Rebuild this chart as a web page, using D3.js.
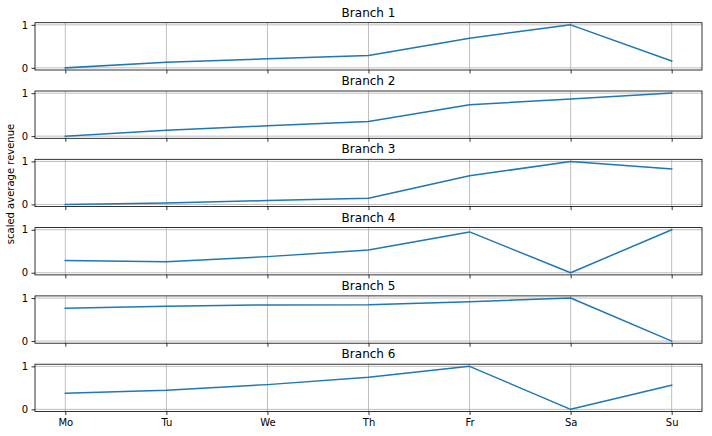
<!DOCTYPE html>
<html><head><meta charset="utf-8">
<script src="https://cdn.jsdelivr.net/npm/d3@7"></script>
<style>body{margin:0;background:#fff}svg{display:block}text{font-family:"DejaVu Sans",sans-serif;fill:#000}</style>
</head><body><svg id="c" width="712" height="436"></svg>
<script>
const days = ["Mo","Tu","We","Th","Fr","Sa","Su"];
const branchNames = ["Branch 1","Branch 2","Branch 3","Branch 4","Branch 5","Branch 6"];
const branch1 = [0.0, 0.13, 0.21, 0.285, 0.69, 1.0, 0.16];
const branch2 = [0.0, 0.14, 0.24, 0.34, 0.73, 0.865, 1.0];
const branch3 = [0.0, 0.035, 0.09, 0.145, 0.665, 1.0, 0.825];
const branch4 = [0.285, 0.255, 0.375, 0.53, 0.95, 0.0, 1.0];
const branch5 = [0.765, 0.81, 0.84, 0.845, 0.915, 1.0, 0.0];
const branch6 = [0.375, 0.445, 0.575, 0.745, 1.0, 0.0, 0.56];
const series = [branch1, branch2, branch3, branch4, branch5, branch6];
const yTicks = [0, 1];

const svg = d3.select("#c");
const left = 35, right = 702, panelTop0 = 22.7, panelStep = 68.3, panelH = 47.3;
const x = d3.scaleLinear().domain([-0.3, 6.3]).range([left, right]);

series.forEach((vals, i) => {
  const top = panelTop0 + i * panelStep;
  const y = d3.scaleLinear().domain([-0.05, 1.05]).range([top + panelH, top]);
  const g = svg.append("g");
  // grid
  g.selectAll(".gx").data(days).enter().append("line")
    .attr("x1", (d, j) => x(j)).attr("x2", (d, j) => x(j))
    .attr("y1", top).attr("y2", top + panelH)
    .attr("stroke", "#b0b0b0").attr("stroke-width", 0.8);
  g.selectAll(".gy").data(yTicks).enter().append("line")
    .attr("x1", left).attr("x2", right)
    .attr("y1", d => y(d)).attr("y2", d => y(d))
    .attr("stroke", "#b0b0b0").attr("stroke-width", 0.8);
  // line
  g.append("path").datum(vals)
    .attr("d", d3.line().x((d, j) => x(j)).y(d => y(d)))
    .attr("fill", "none").attr("stroke", "#1f77b4").attr("stroke-width", 1.5)
    .attr("stroke-linejoin", "round").attr("stroke-linecap", "square");
  // axes
  const ax = d3.axisBottom(x).tickValues(d3.range(days.length)).tickSize(3.5).tickPadding(3.5)
    .tickFormat(i === series.length - 1 ? (j => days[j]) : () => "");
  const xg = g.append("g").attr("transform", `translate(0,${top + panelH})`).call(ax);
  const ay = d3.axisLeft(y).tickValues(yTicks).tickSize(3.5).tickPadding(3.5).tickFormat(d3.format("d"));
  const yg = g.append("g").attr("transform", `translate(${left},0)`).call(ay);
  [xg, yg].forEach(a => {
    a.select(".domain").remove();
    a.selectAll("line").attr("stroke", "#000").attr("stroke-width", 0.8);
    a.selectAll("text").attr("font-size", 10).attr("font-family", "DejaVu Sans").attr("fill", "#000");
  });
  // frame
  g.append("rect").attr("x", left).attr("y", top).attr("width", right - left).attr("height", panelH)
    .attr("fill", "none").attr("stroke", "#000").attr("stroke-width", 0.8);
  // title
  g.append("text").attr("x", (left + right) / 2).attr("y", top - 6)
    .attr("text-anchor", "middle").attr("font-size", 12).text(branchNames[i]);
});

svg.append("text").attr("transform", "translate(14,184) rotate(-90)")
  .attr("text-anchor", "middle").attr("font-size", 10).text("scaled average revenue");
</script></body></html>
